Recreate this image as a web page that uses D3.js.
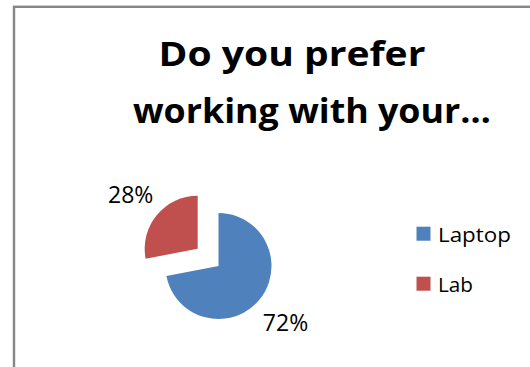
<!DOCTYPE html>
<html>
<head>
<meta charset="utf-8">
<script src="https://cdn.jsdelivr.net/npm/d3@7"></script>
<style>
  html, body { margin: 0; padding: 0; background: #fff; overflow: hidden; }
  svg { display: block; }
  text { font-family: "Open Sans", Lato, sans-serif; fill: #000; }
</style>
</head>
<body>
<svg id="chart" width="530" height="367"></svg>
<script>
// Survey answers
const categories = ["Laptop", "Lab"];
const values = [72, 28];
const colors = ["#4F81BD", "#C0504D"];
const titleLines = ["Do you prefer", "working with your…"];

const svg = d3.select("#chart");

// stretch a text node horizontally so it spans the given width from x
function fitWidth(sel, x, width) {
  sel.each(function () {
    const natural = this.getComputedTextLength();
    const sx = width / natural;
    d3.select(this)
      .attr("x", 0)
      .attr("transform", `translate(${x},0) scale(${sx},1)`);
  });
}

// chart frame (its right and bottom edges run past the view)
svg.append("rect")
  .attr("x", 14).attr("y", 6.8)
  .attr("width", 600).attr("height", 500)
  .attr("fill", "none")
  .attr("stroke", "#878787")
  .attr("stroke-width", 2.4);

// title, two lines, each stretched to its own width
const titleX = [158.5, 133];
const titleY = [66, 123.5];
const titleW = [267, 358];
svg.selectAll("text.title")
  .data(titleLines)
  .join("text")
  .attr("class", "title")
  .attr("y", (d, i) => titleY[i])
  .style("font-weight", "bold")
  .style("font-size", "34px")
  .text(d => d)
  .each(function (d, i) { fitWidth(d3.select(this), titleX[i], titleW[i]); });

// pie
const cx = 218.5, cy = 266, r = 53, explode = 27, labelR = 87;
const total = d3.sum(values);
const pie = d3.pie().sort(null).value(d => d.value)
  .startAngle(0).endAngle(2 * Math.PI);
const slices = pie(categories.map((c, i) => ({ name: c, value: values[i], color: colors[i] })));
const arc = d3.arc().innerRadius(0).outerRadius(r);
const mid = s => (s.startAngle + s.endAngle) / 2;

// the smaller slice is pulled out of the pie
const offsets = slices.map((s, i) => {
  const d = i === 1 ? explode : 0;
  return [cx + d * Math.sin(mid(s)), cy - d * Math.cos(mid(s))];
});

const g = svg.append("g");
g.selectAll("path")
  .data(slices)
  .join("path")
  .attr("transform", (d, i) => `translate(${offsets[i][0]},${offsets[i][1]})`)
  .attr("d", arc)
  .attr("fill", d => d.data.color);

// percentage labels outside each slice
const pctSize = 23;
g.selectAll("text.pct")
  .data(slices)
  .join("text")
  .attr("class", "pct")
  .attr("x", (d, i) => offsets[i][0] + labelR * Math.sin(mid(d)))
  .attr("y", (d, i) => offsets[i][1] - labelR * Math.cos(mid(d)) + 0.4 * pctSize)
  .attr("text-anchor", "middle")
  .style("font-size", pctSize + "px")
  .text(d => Math.round(d.value / total * 100) + "%");

// legend
const legendW = [73, 35];
const legend = svg.append("g").attr("transform", "translate(416.5,226.7)");
const item = legend.selectAll("g")
  .data(slices)
  .join("g")
  .attr("transform", (d, i) => `translate(0,${i * 50})`);
item.append("rect")
  .attr("width", 14).attr("height", 14)
  .attr("fill", d => d.data.color);
item.append("text")
  .attr("y", 15)
  .style("font-size", "20.5px")
  .text(d => d.data.name)
  .each(function (d, i) { fitWidth(d3.select(this), 21.5, legendW[i]); });
</script>
</body>
</html>
